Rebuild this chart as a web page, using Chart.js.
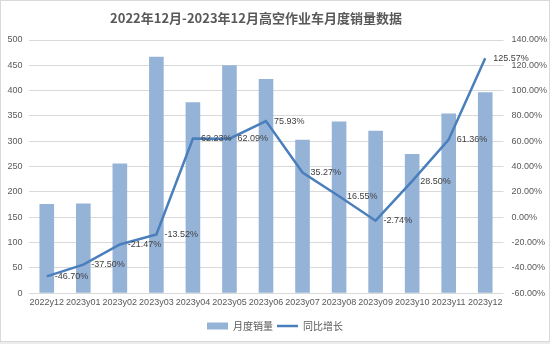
<!DOCTYPE html>
<html>
<head>
<meta charset="utf-8">
<script src="https://cdn.jsdelivr.net/npm/chart.js@4"></script>
<style>
  body { margin: 0; background: #ececec; }
  #box { position: absolute; left: 0; top: 0; width: 548px; height: 340px; border: 1px solid #d9d9d9; background: #fff; }
</style>
</head>
<body>
<div id="box"><canvas id="chart" width="548" height="340"></canvas></div>
<script>
const chartTitle = '2022年12月-2023年12月高空作业车月度销量数据';
const months = ['2022y12', '2023y01', '2023y02', '2023y03', '2023y04', '2023y05', '2023y06',
    '2023y07', '2023y08', '2023y09', '2023y10', '2023y11', '2023y12'];
const sales = [176, 177, 256, 467, 377, 450, 423, 303, 339, 321, 275, 355, 397];
const growth = [-46.70, -37.50, -21.47, -13.52, 62.23, 62.09, 75.93, 35.27, 16.55, -2.74, 28.50, 61.36, 125.57];

const tickFont = {family: '"Liberation Sans", sans-serif', size: 9};
const cjkFont = '"Noto Sans CJK SC", sans-serif';

// title sits a little left of centre, so it is drawn by hand
const titleText = {
    id: 'titleText',
    afterDraw(chart) {
        const ctx = chart.ctx;
        ctx.save();
        ctx.font = 'bold 13px ' + cjkFont;
        ctx.fillStyle = '#595959';
        ctx.textAlign = 'center';
        ctx.textBaseline = 'middle';
        ctx.fillText(chartTitle, 255, 17);
        ctx.restore();
    }
};

// percent labels to the right of each line point
const growthLabels = {
    id: 'growthLabels',
    afterDatasetsDraw(chart) {
        const meta = chart.getDatasetMeta(1);
        const ctx = chart.ctx;
        ctx.save();
        ctx.font = '9px "Liberation Sans", sans-serif';
        ctx.fillStyle = '#404040';
        ctx.textAlign = 'left';
        ctx.textBaseline = 'middle';
        meta.data.forEach((pt, i) => {
            ctx.fillText(growth[i].toFixed(2) + '%', pt.x + 8, pt.y);
        });
        ctx.restore();
    }
};

new Chart(document.getElementById('chart'), {
    data: {
        labels: months,
        datasets: [
            {
                type: 'bar',
                label: '月度销量',
                data: sales,
                backgroundColor: '#95b3d7',
                borderWidth: 0,
                barPercentage: 0.4,
                categoryPercentage: 1,
                pointStyle: 'rect',
                yAxisID: 'y',
                order: 2
            },
            {
                type: 'line',
                label: '同比增长',
                data: growth,
                borderColor: '#4a7fbc',
                backgroundColor: '#4a7fbc',
                borderWidth: 2.5,
                pointRadius: 0,
                pointStyle: 'line',
                tension: 0,
                yAxisID: 'y1',
                order: 1
            }
        ]
    },
    options: {
        responsive: false,
        animation: false,
        layout: {padding: {top: 39, bottom: 0}},
        scales: {
            x: {
                grid: {display: false, drawTicks: false},
                border: {display: false},
                ticks: {color: '#595959', font: tickFont, maxRotation: 0, autoSkip: false, padding: 4},
                afterFit(scale) { scale.height += 5; }
            },
            y: {
                position: 'left',
                min: 0,
                max: 500,
                ticks: {stepSize: 50, color: '#595959', font: tickFont, padding: 6},
                grid: {color: '#d9d9d9', drawTicks: false},
                border: {display: false},
                afterFit(scale) { scale.width = 27.5; }
            },
            y1: {
                position: 'right',
                min: -60,
                max: 140,
                ticks: {
                    stepSize: 20,
                    color: '#595959',
                    font: tickFont,
                    padding: 8,
                    callback: v => v.toFixed(2) + '%'
                },
                grid: {display: false, drawTicks: false},
                border: {display: false},
                afterFit(scale) { scale.width = 45.5; }
            }
        },
        plugins: {
            title: {display: false},
            legend: {
                position: 'bottom',
                labels: {
                    usePointStyle: true,
                    pointStyleWidth: 21,
                    boxHeight: 7,
                    padding: 4,
                    color: '#595959',
                    font: {family: cjkFont, size: 10},
                    sort: (a, b) => a.datasetIndex - b.datasetIndex
                }
            },
            tooltip: {enabled: false}
        }
    },
    plugins: [growthLabels, titleText]
});
</script>
</body>
</html>
